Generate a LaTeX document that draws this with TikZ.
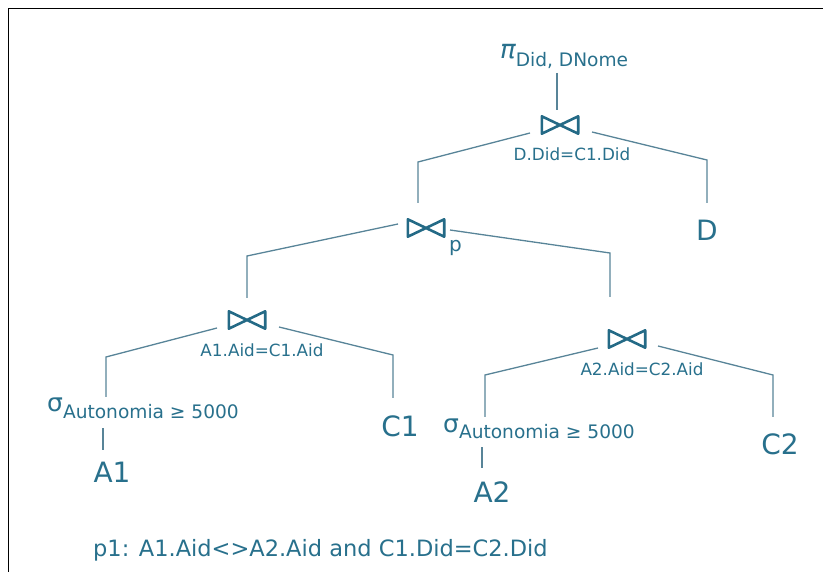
\documentclass[tikz,border=0pt]{standalone}
\usepackage{fontspec}
\setmainfont{DejaVu Sans}
\definecolor{tc}{RGB}{40,112,140}
\definecolor{lc}{RGB}{88,132,152}
\definecolor{bc}{RGB}{36,106,134}
\newcommand\drawbt[1]{\draw[btl] (#1.north west) -- (#1.south east) -- (#1.north east) -- (#1.south west) -- cycle;}
\begin{document}
\begin{tikzpicture}[x=1pt,y=-1pt,
  txt/.style={inner sep=0pt, text=tc},
  big/.style={txt, font=\fontsize{28}{30}\selectfont},
  lab/.style={txt, font=\fontsize{16.8}{18}\selectfont},
  btn/.style={inner sep=0pt, minimum width=36pt, minimum height=17pt},
  btl/.style={draw=bc, line width=2.6pt, line join=round},
  conn/.style={draw=lc, line width=1.3pt},
  frame/.style={draw=black, line width=1pt}]
\useasboundingbox (0,0) rectangle (823,572);
\draw[frame] (8,572) -- (8,9) -- (823,9);

% operators
\node[txt, anchor=base west] (pi) at (500,59) {\fontsize{26}{26}\selectfont\itshape π\upshape\raisebox{-8pt}{\fontsize{18.6}{19}\selectfont Did, DNome}};
\node[btn] (j1) at (560,125) {};
\node[btn] (jp) at (426,228) {};
\node[btn] (ja1) at (247,320) {};
\node[btn] (ja2) at (627,339) {};
\drawbt{j1}\drawbt{jp}\drawbt{ja1}\drawbt{ja2}

\node[lab] (l1) at (572,154) {D.Did=C1.Did};
\node[txt, anchor=base west, font=\fontsize{20}{20}\selectfont] (lp) at (449,252) {p};
\node[lab] (la1) at (262,350) {A1.Aid=C1.Aid};
\node[lab] (la2) at (642,369) {A2.Aid=C2.Aid};

\node[txt, anchor=base west] (s1) at (47,412) {\fontsize{25}{25}\selectfont σ\raisebox{-6pt}{\fontsize{18.6}{19}\selectfont Autonomia ≥ 5000}};
\node[txt, anchor=base west] (s2) at (443,432) {\fontsize{25}{25}\selectfont σ\raisebox{-6pt}{\fontsize{18.6}{19}\selectfont Autonomia ≥ 5000}};

% relations
\node[big] (D) at (707,230) {D};
\node[big] (A1) at (112,472) {A1};
\node[big] (C1) at (400,426) {C1};
\node[big] (A2) at (492,492) {A2};
\node[big] (C2) at (780,444) {C2};

% connectors
\draw[conn] ([shift={(57,14)}]pi.base west) -- ([shift={(-3,-15)}]j1.center);
\draw[conn] ([shift={(-30,8)}]j1.center) -- ([shift={(-8,-66)}]jp.center) -- ([shift={(-8,-25)}]jp.center);
\draw[conn] ([shift={(32,7)}]j1.center) -- ([shift={(0,-70)}]D.center) -- ([shift={(0,-27)}]D.center);
\draw[conn] ([shift={(-28,-4)}]jp.center) -- ([shift={(0,-64)}]ja1.center) -- ([shift={(0,-22)}]ja1.center);
\draw[conn] ([shift={(24,2)}]jp.center) -- ([shift={(-17,-86)}]ja2.center) -- ([shift={(-17,-42)}]ja2.center);
\draw[conn] ([shift={(-30,8)}]ja1.center) -- ([shift={(59,-55)}]s1.base west) -- ([shift={(59,-15)}]s1.base west);
\draw[conn] ([shift={(32,7)}]ja1.center) -- ([shift={(-7,-71)}]C1.center) -- ([shift={(-7,-28)}]C1.center);
\draw[conn] ([shift={(56,16)}]s1.base west) -- ([shift={(-9,-22)}]A1.center);
\draw[conn] ([shift={(-29,9)}]ja2.center) -- ([shift={(42,-57)}]s2.base west) -- ([shift={(42,-15)}]s2.base west);
\draw[conn] ([shift={(31,7)}]ja2.center) -- ([shift={(-7,-69)}]C2.center) -- ([shift={(-7,-27)}]C2.center);
\draw[conn] ([shift={(39,15)}]s2.base west) -- ([shift={(-10,-24)}]A2.center);

\node[txt, anchor=base west, font=\fontsize{22.5}{24}\selectfont] (foot) at (93,556) {p1: A1.Aid<>A2.Aid and C1.Did=C2.Did};
\end{tikzpicture}
\end{document}
